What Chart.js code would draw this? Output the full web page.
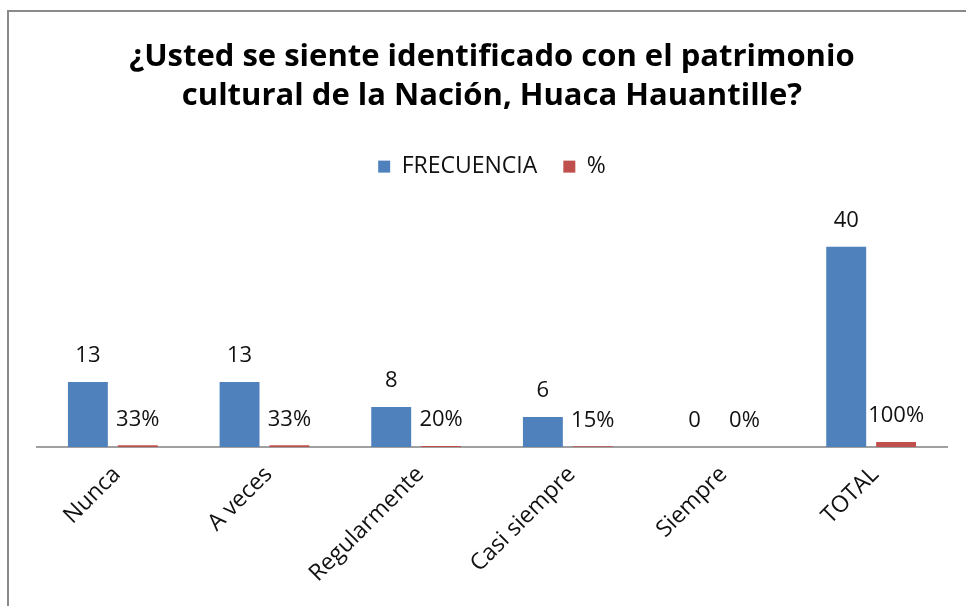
<!DOCTYPE html>
<html>
<head>
<meta charset="utf-8">
<script src="https://cdn.jsdelivr.net/npm/chart.js@4/dist/chart.umd.min.js"></script>
<style>
  body { margin: 0; background: #fff; }
  #holder { position: absolute; left: 0; top: 0; width: 966px; height: 606px; }
  #frame { position: absolute; left: 7px; top: 10px; width: 980px; height: 620px;
           border-left: 2px solid #8a8a8a; border-top: 2px solid #8a8a8a; }
</style>
</head>
<body>
<div id="holder"><canvas id="chart" width="966" height="606"></canvas></div>
<div id="frame"></div>
<script>
const categories = ['Nunca', 'A veces', 'Regularmente', 'Casi siempre', 'Siempre', 'TOTAL'];
const frecuencia = [13, 13, 8, 6, 0, 40];
const porcentaje = [33, 33, 20, 15, 0, 100];
const titleLines = ['¿Usted se siente identificado con el patrimonio', 'cultural de la Nación, Huaca Hauantille?'];

const fontName = '"Open Sans", "DejaVu Sans", sans-serif';

// labels above each bar, like the excel data labels
const barLabels = {
  id: 'barLabels',
  afterDatasetsDraw(chart) {
    const ctx = chart.ctx;
    ctx.save();
    ctx.font = '22px ' + fontName;
    ctx.fillStyle = '#111';
    ctx.textAlign = 'center';
    ctx.textBaseline = 'middle';
    chart.data.datasets.forEach((ds, i) => {
      chart.getDatasetMeta(i).data.forEach((bar, j) => {
        const txt = i === 0 ? String(frecuencia[j]) : porcentaje[j] + '%';
        ctx.fillText(txt, bar.x, bar.y - 26);
      });
    });
    ctx.restore();
  },
};

new Chart('chart', {
  type: 'bar',
  data: {
    labels: categories,
    datasets: [
      { label: 'FRECUENCIA', data: frecuencia, backgroundColor: '#4f81bd' },
      { label: '%', data: porcentaje.map((p) => p / 100), backgroundColor: '#c0504d' },
    ],
  },
  options: {
    responsive: false,
    animation: false,
    layout: { padding: { left: 37, right: 19, top: 0, bottom: 0 } },
    datasets: { bar: { categoryPercentage: 0.658, barPercentage: 0.8 } },
    plugins: {
      title: {
        display: true,
        text: titleLines,
        color: '#000',
        font: { family: fontName, size: 31, weight: 'bold', lineHeight: 1.26 },
        padding: { top: 38, bottom: 13 },
      },
      legend: {
        display: true,
        position: 'top',
        labels: { color: '#111', boxWidth: 12, boxHeight: 12, padding: 26, font: { family: fontName, size: 23 } },
      },
      tooltip: { enabled: false },
    },
    scales: {
      x: {
        grid: { display: false, drawTicks: false },
        border: { display: true, color: '#a0a0a0', width: 2 },
        ticks: { color: '#111', maxRotation: 45, minRotation: 45, padding: 14, labelOffset: 4, font: { family: fontName, size: 23 } },
        // axis line sits at y = 447 like the original
        afterFit: (scale) => { scale.height = 159; },
      },
      y: { display: false, min: 0, max: 51.7 },
    },
  },
  plugins: [barLabels],
});
</script>
</body>
</html>
